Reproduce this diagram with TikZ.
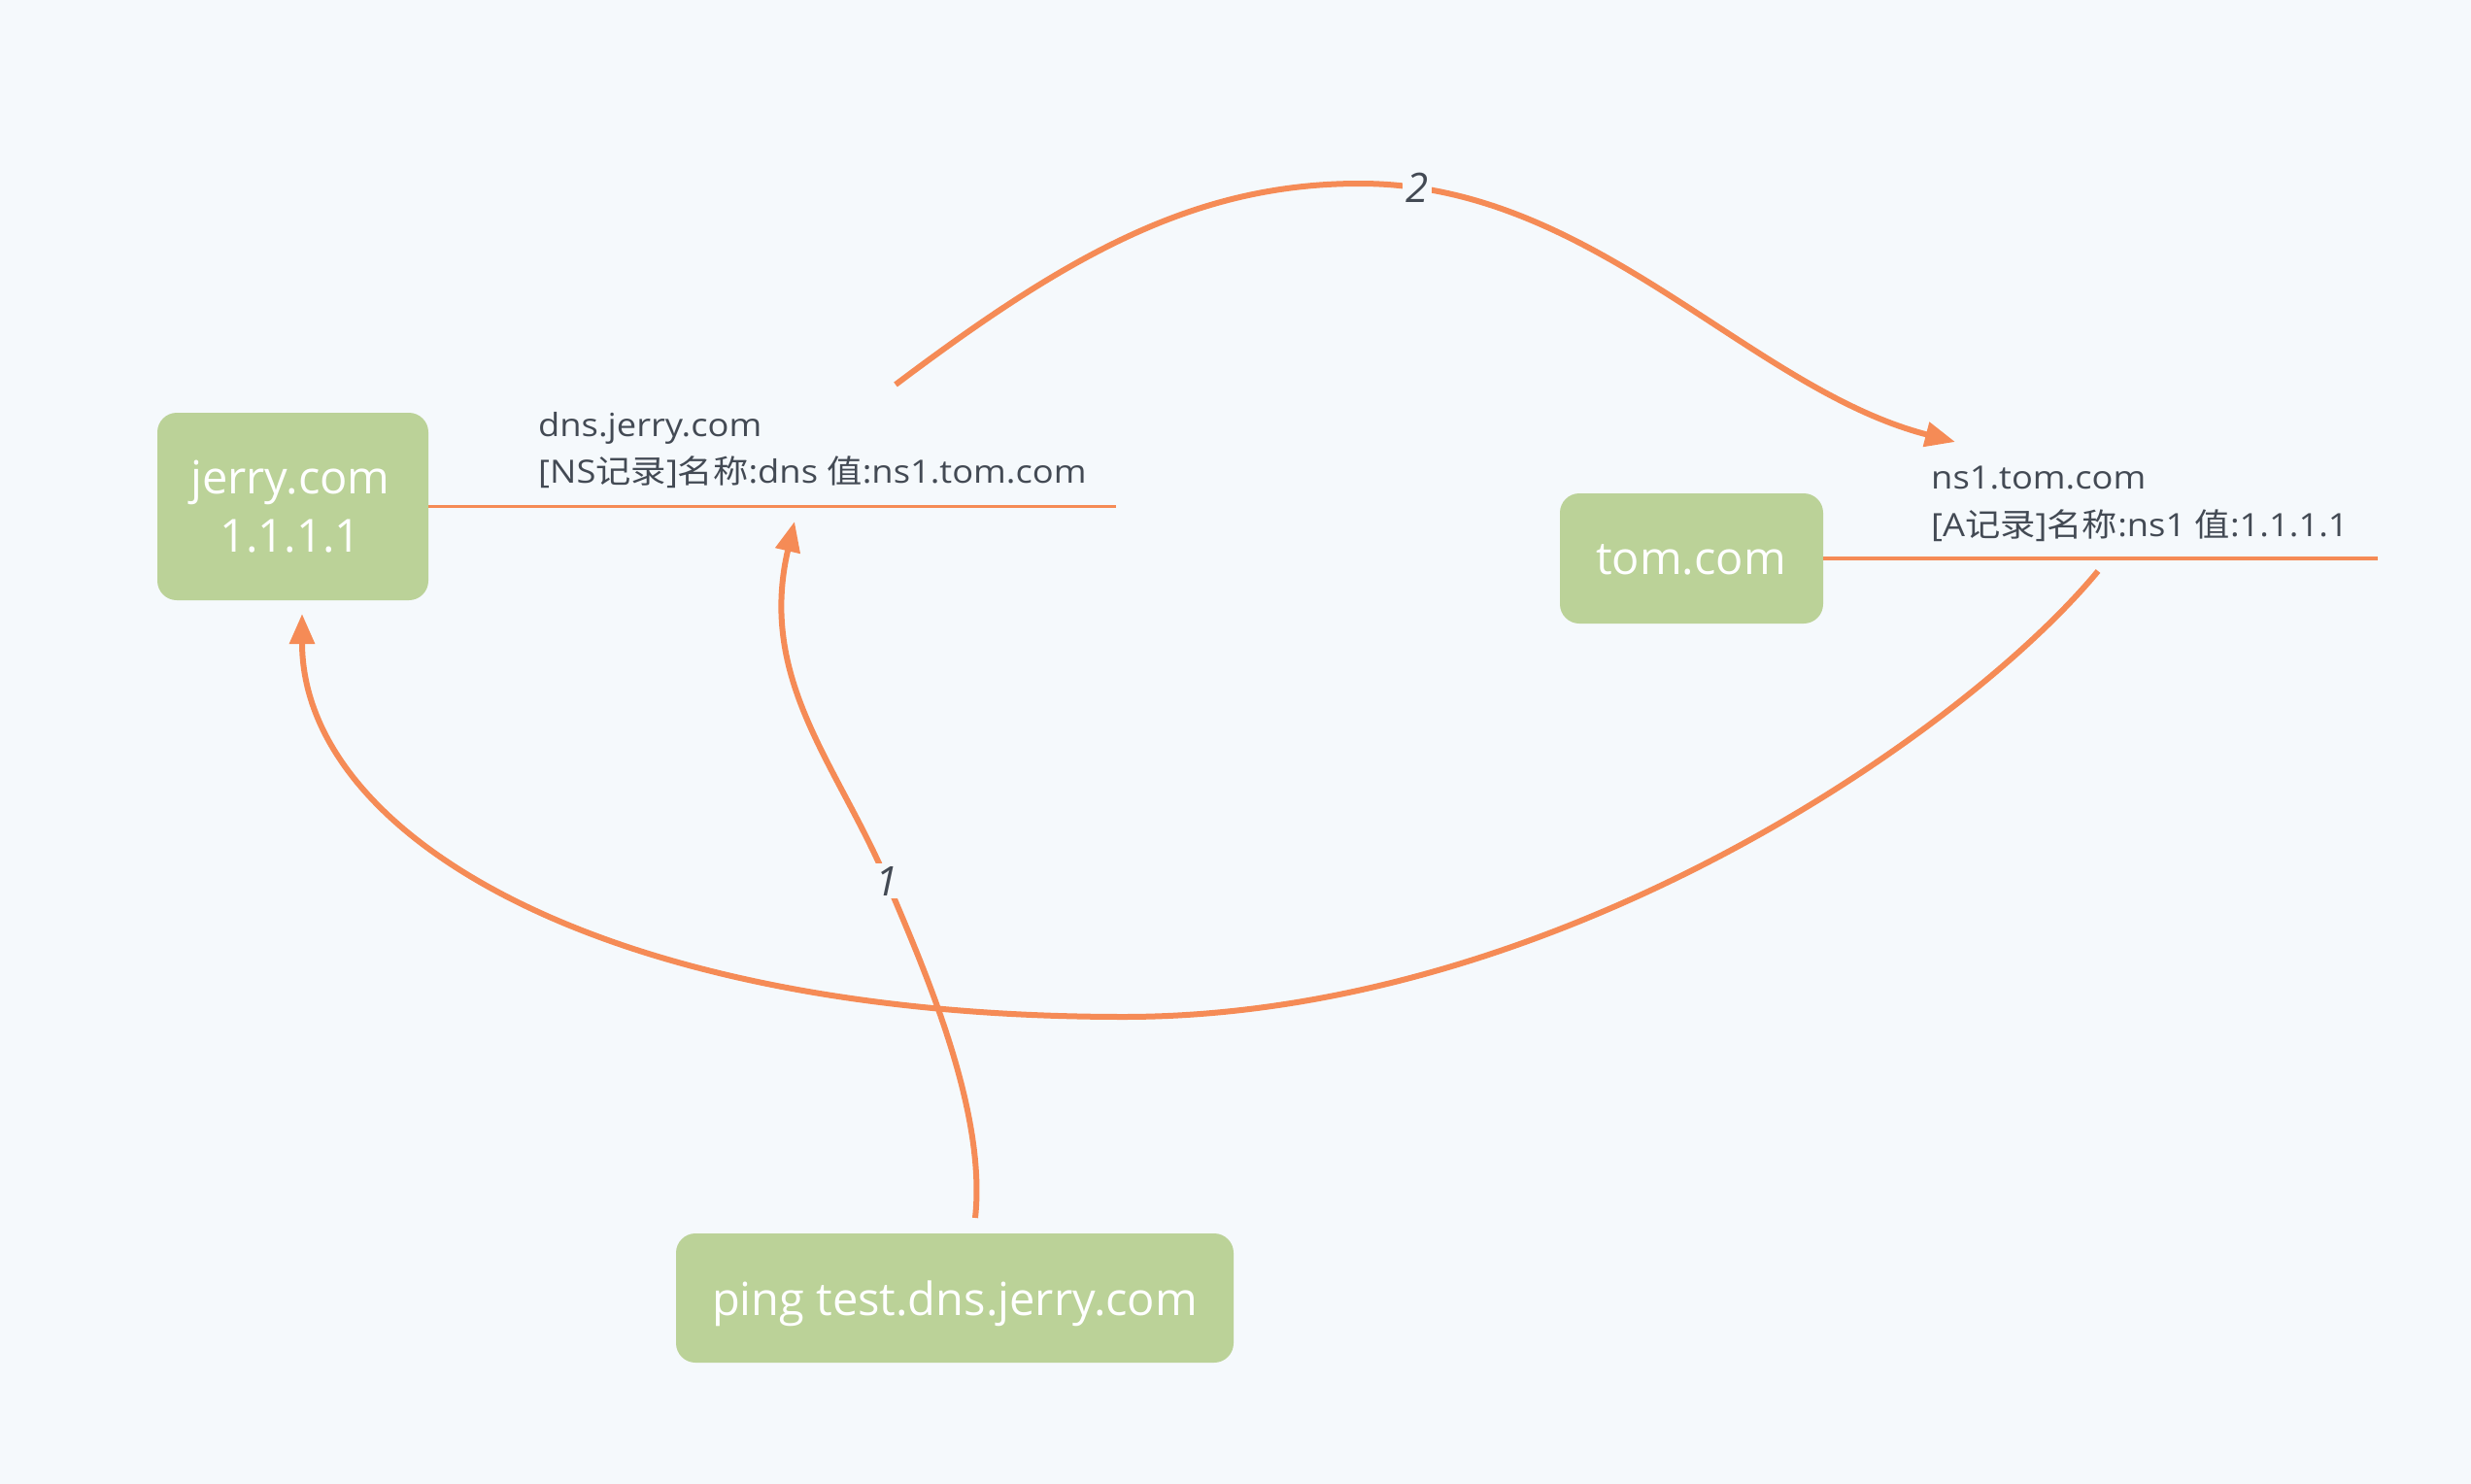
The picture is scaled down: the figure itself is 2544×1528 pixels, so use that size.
\documentclass[tikz,border=0pt]{standalone}
\usepackage{fontspec}
\setmainfont{Open Sans}
\newfontfamily\lblfont{Open Sans}[FakeStretch=1.10]
\newfontfamily\cjk{Noto Sans CJK SC}[FakeStretch=1.10]
\usetikzlibrary{arrows.meta}
\definecolor{bgc}{HTML}{F5F9FC}
\definecolor{boxc}{HTML}{BBD298}
\definecolor{orc}{HTML}{F58B56}
\definecolor{txc}{HTML}{434A54}
\begin{document}
\begin{tikzpicture}[x=1pt,y=-1pt,
  boxn/.style={draw=none, fill=boxc, rounded corners=20pt, inner sep=0pt},
  boxtxt/.style={text=white, font=\fontsize{47}{47}\selectfont, inner sep=0pt, anchor=base},
  lbl/.style={text=txc, font=\lblfont\fontsize{33}{33}\selectfont, inner sep=0pt, anchor=base west},
  uline/.style={draw=orc, line width=3.5pt},
  conn/.style={draw=orc, line width=6pt, -{Triangle[length=31pt,width=25pt]}},
  numlbl/.style={text=txc, fill=bgc, font=\fontsize{42}{42}\selectfont\itshape, inner sep=3pt}]
\fill[bgc] (0,0) rectangle (2544,1528);
\useasboundingbox (0,0) rectangle (2544,1528);

% boxes
\node[boxn, minimum width=279pt, minimum height=193pt] (jerry) at (301.5,521.5) {};
\node[boxn, minimum width=271pt, minimum height=134pt] (tom) at (1741.5,575) {};
\node[boxn, minimum width=574pt, minimum height=133pt] (ping) at (983,1336.5) {};
\node[boxtxt] (jerryt1) at (299,508) {jerry.com};
\node[boxtxt] (jerryt2) at (299,568) {1.1.1.1};
\node[boxtxt] (tomt) at (1741,591.5) {tom.com};
\node[boxtxt] (pingt) at (983,1354) {ping test.dns.jerry.com};

% labels
\node[lbl] (dns1) at (554,449) {dns.jerry.com};
\node[lbl] (dns2) at (554,497) {[NS{\cjk 记录}]{\cjk 名称}:dns {\cjk 值}:ns1.tom.com};
\node[lbl] (ns1) at (1988,503) {ns1.tom.com};
\node[lbl] (ns2) at (1988,552) {[A{\cjk 记录}]{\cjk 名称}:ns1 {\cjk 值}:1.1.1.1};

% underlines
\coordinate (jl) at (1149,521.5);
\coordinate (tl) at (2448,575);
\path[uline] (jerry.east) -- (jl);
\path[uline] (tom.east) -- (tl);

% connector 3
\coordinate (a3s) at (2160,588);
\coordinate (b3) at (1157,1047);
\coordinate (a3e) at (311,632);
\path[conn] (a3s) .. controls (2021,756) and (1600,1047) .. (b3) .. controls (620,1047) and (311,860) .. (a3e);

% connector 1
\coordinate (a1s) at (1004,1254);
\coordinate (m1) at (913,907);
\coordinate (a1e) at (818,537);
\path[conn] (a1s) .. controls (1016,1144) and (952,999) .. (m1) .. controls (862,787) and (780,700) .. (a1e);
\node[numlbl] (n1) at (m1) {1};

% connector 2
\coordinate (a2s) at (922,396);
\coordinate (p2) at (1400,189);
\coordinate (a2e) at (2013,455);
\path[conn] (a2s) .. controls (1100,262) and (1230,189) .. (p2) .. controls (1640,189) and (1800,400) .. (a2e);
\node[numlbl] (n2) at (1459,193) {2};
\end{tikzpicture}
\end{document}
